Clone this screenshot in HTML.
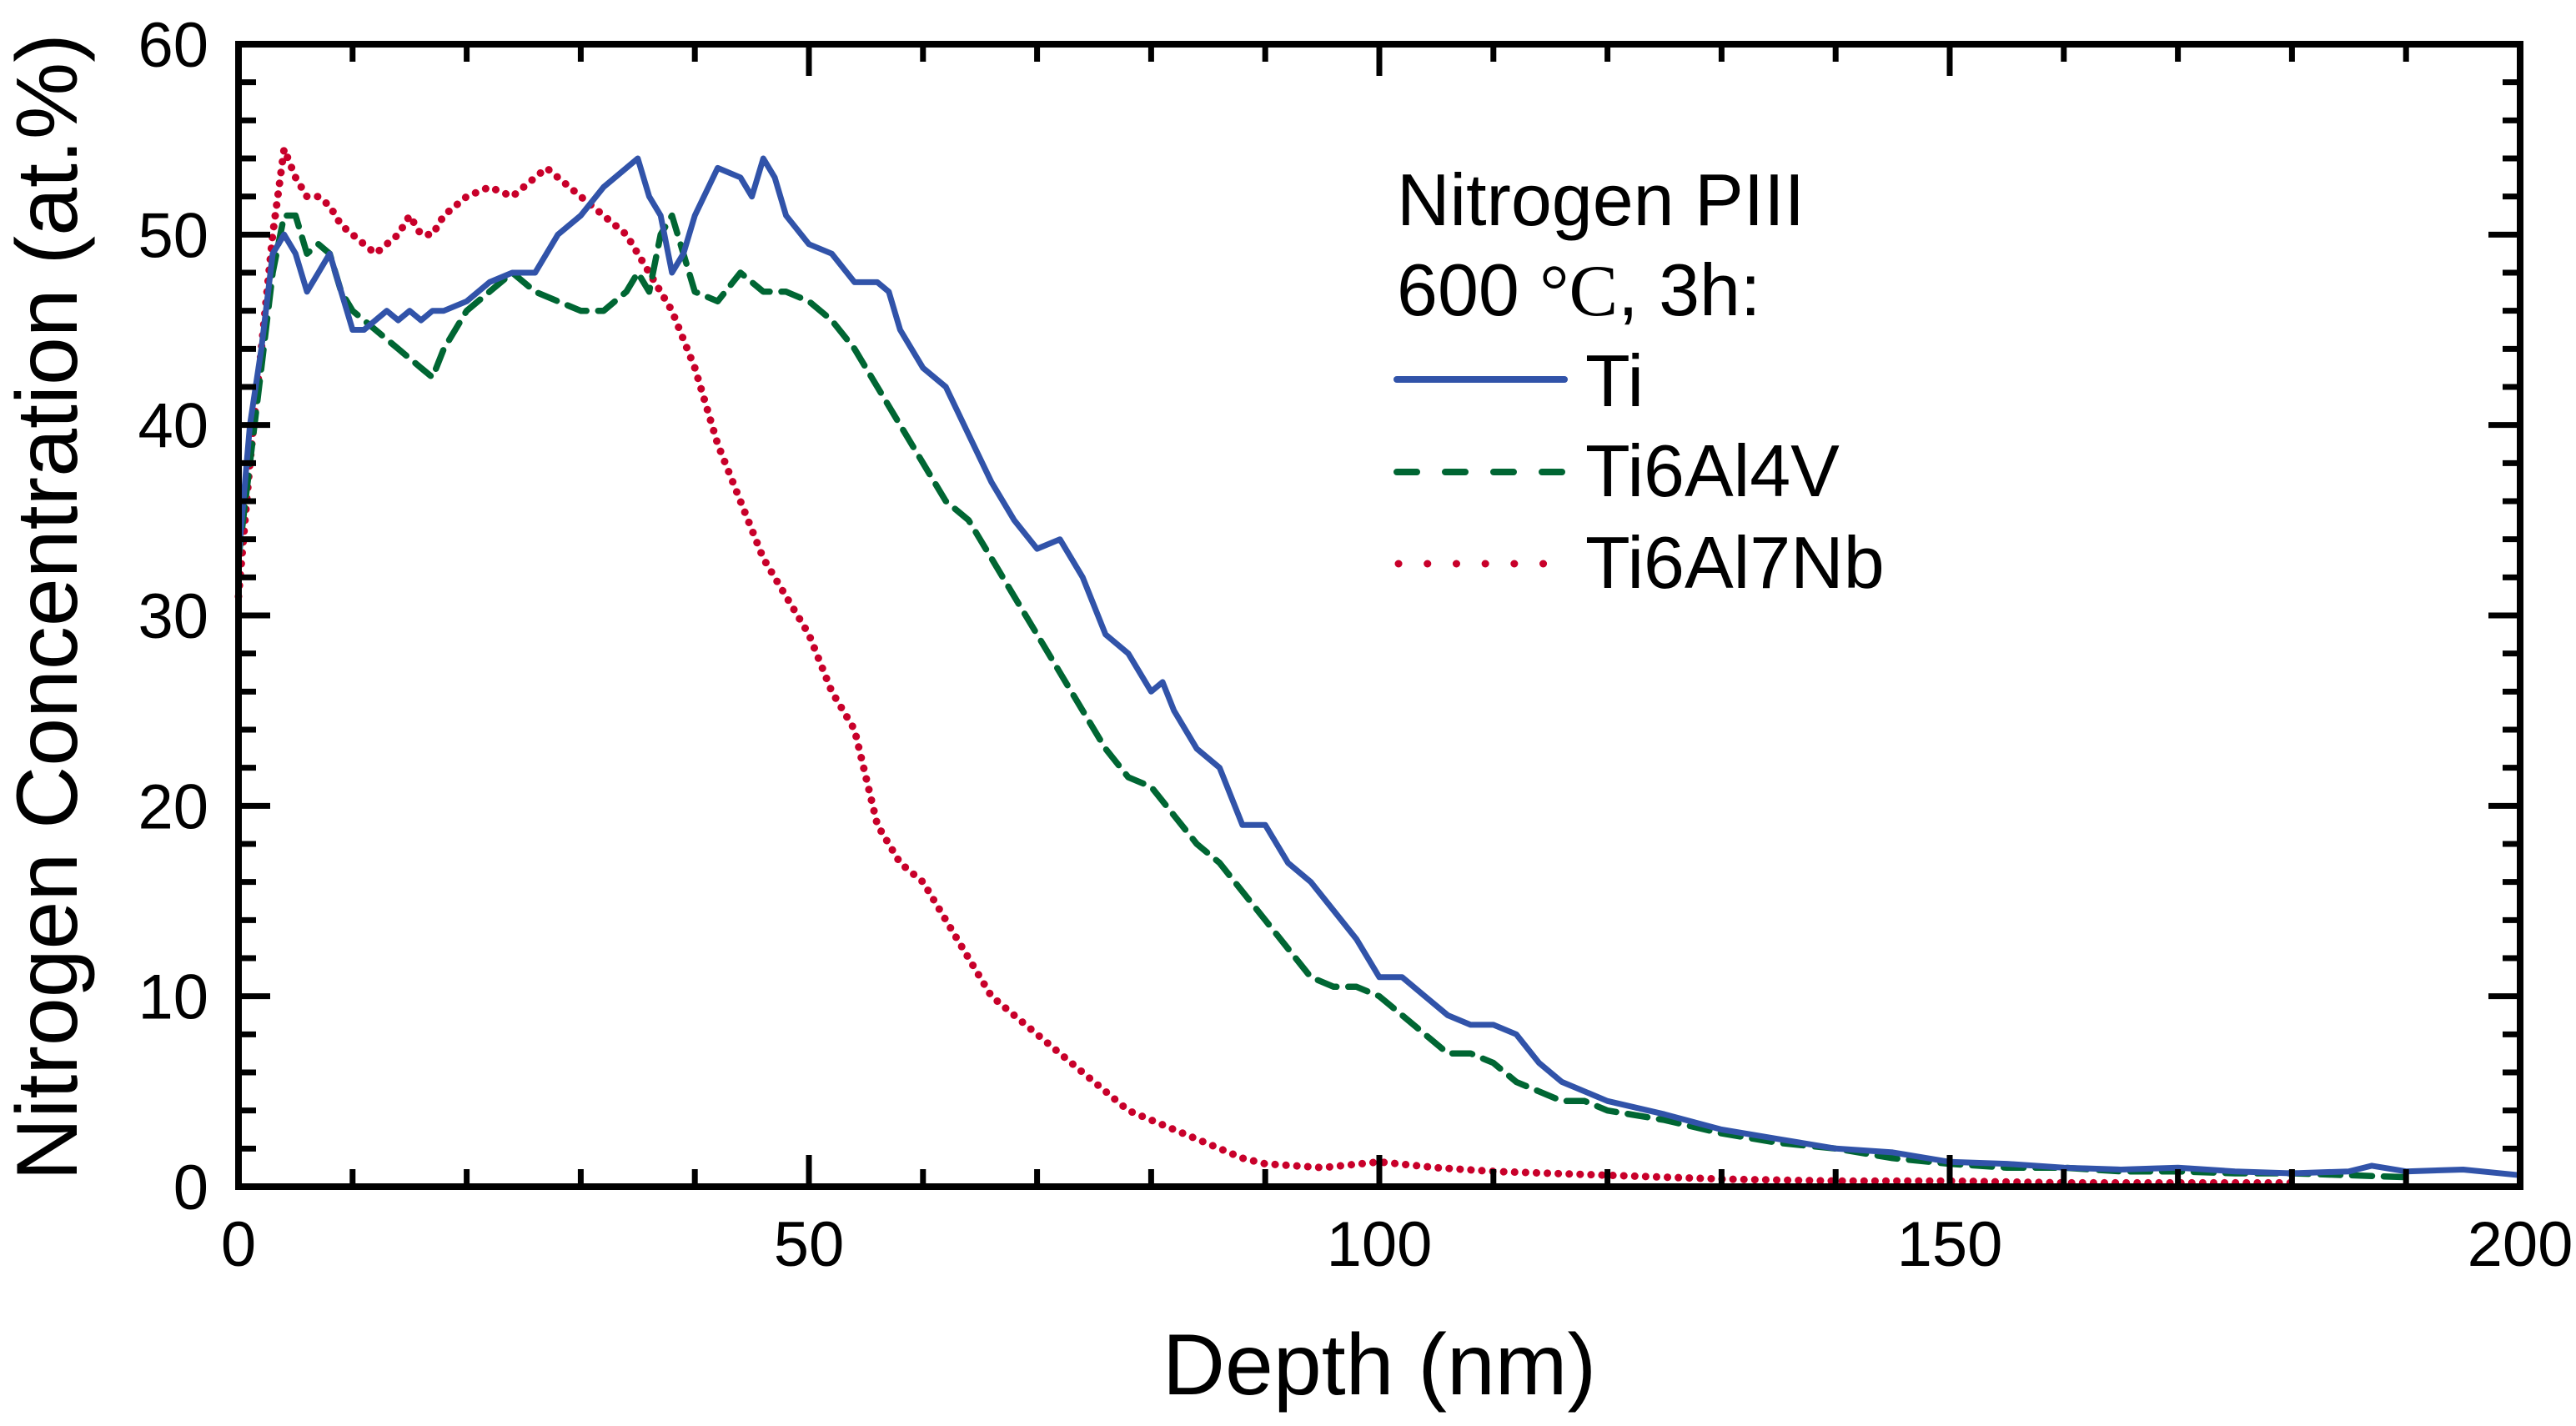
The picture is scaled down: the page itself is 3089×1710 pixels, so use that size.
<!DOCTYPE html>
<html><head><meta charset="utf-8"><style>
html,body{margin:0;padding:0;background:#fff;}
svg{display:block;font-family:"Liberation Sans",Arial,sans-serif;}
</style></head><body>
<svg id="chart" width="3089" height="1710" viewBox="0 0 3089 1710" xmlns="http://www.w3.org/2000/svg">
<g id="series"></g>
<g id="axes"></g>
<text x="0" y="0" font-size="104" text-anchor="middle" transform="translate(92,728) rotate(-90)">Nitrogen Concentration (at.%)</text>
<text x="1654" y="1672" font-size="104" text-anchor="middle">Depth (nm)</text>
<g font-size="88">
<text x="1675" y="270">Nitrogen PIII</text>
<text x="1675" y="378">600 <tspan font-family="Liberation Serif, serif">°C</tspan>, 3h:</text>
<line x1="1675" y1="455" x2="1876" y2="455" stroke="#3153a9" stroke-width="8" stroke-linecap="round"/>
<text x="1901" y="487">Ti</text>
<line x1="1675" y1="566" x2="1876" y2="566" stroke="#006633" stroke-width="8" stroke-linecap="round" stroke-dasharray="24 34"/>
<text x="1901" y="595">Ti6Al4V</text>
<line x1="1677" y1="676" x2="1855" y2="676" stroke="#c8002a" stroke-width="9" stroke-linecap="round" stroke-dasharray="0.1 34.6"/>
<text x="1901" y="705">Ti6Al7Nb</text>
</g>
</svg>
<script>
const xTicks=[0,50,100,150,200];
const yTicks=[0,10,20,30,40,50,60];
const tiX=[0,1,2,3,4,5,6,7,8,9,10,11,12,13,14,15,16,17,18,20,22,24,26,28,30,32,34,35,36,37,38,39,40,42,44,45,46,47,48,50,52,54,56,57,58,60,62,64,66,68,70,72,74,76,78,80,81,82,84,86,88,90,92,94,96,98,100,102,104,106,108,110,112,114,116,118,120,125,130,135,140,145,150,155,160,165,170,175,180,185,187,190,195,200];
const tiY=[33,40,44,49,50,49,47,48,49,47,45,45,45.5,46,45.5,46,45.5,46,46,46.5,47.5,48,48,50,51,52.5,53.5,54,52,51,48,49,51,53.5,53,52,54,53,51,49.5,49,47.5,47.5,47,45,43,42,39.5,37,35,33.5,34,32,29,28,26,26.5,25,23,22,19,19,17,16,14.5,13,11,11,10,9,8.5,8.5,8,6.5,5.5,5,4.5,3.8,3,2.5,2,1.8,1.3,1.2,1,0.9,1,0.8,0.7,0.8,1.1,0.8,0.9,0.6];
const v4X=[0,2,3,4,5,6,7,8,9,10,12,14,16,17,18,20,22,24,26,28,30,32,34,35,36,37,38,39,40,42,44,46,48,50,52,54,56,58,60,62,64,66,68,70,72,74,76,78,80,82,84,86,88,90,92,94,96,98,100,102,104,106,108,110,112,114,116,118,120,125,130,135,140,145,150,155,160,165,170,175,180,185,190];
const v4Y=[33,43,48,51,51,49,49.5,49,47,46,45,44,43,42.5,44,46,47,48,47,46.5,46,46,47,48,47,50,51,49,47,46.5,48,47,47,46.5,45.5,44,42,40,38,36,35,33,31,29,27,25,23,21.5,21,19.5,18,17,15.5,14,12.5,11,10.5,10.5,10,9,8,7,7,6.5,5.5,5,4.5,4.5,4,3.5,2.8,2.3,2,1.5,1.2,1,1,0.8,0.8,0.7,0.7,0.6,0.5];
const nbX=[0,1,2,3,4,5,6,7,8,9,10,11,12,13,14,15,16,17,18,20,22,24,26,27,28,30,32,34,36,38,40,41,42,44,46,48,50,52,54,56,58,60,62,64,66,68,70,72,74,76,78,80,82,84,86,88,90,95,100,105,110,120,130,140,150,160,170,180];
const nbY=[31,38,44,50,54.5,53,52,52,51.5,50.5,50,49.5,49,49.5,50,51,50,50,51,52,52.5,52,53,53.5,53,52,51,50,48,46,43,41,39,36,33,31,29,26,24,19,17,16,14,12,10,9,8,7,6,5,4,3.5,3,2.5,2,1.5,1.2,1,1.3,1,0.8,0.6,0.4,0.3,0.3,0.2,0.2,0.2];

const X0=286,X1=3022,Y0=1423,Y1=53;
const sx=v=>X0+(v-0)/(200-0)*(X1-X0);
const sy=v=>Y0-(v-0)/(60-0)*(Y0-Y1);
const NS="http://www.w3.org/2000/svg";
function mk(tag,attrs,parent){const e=document.createElementNS(NS,tag);for(const k in attrs)e.setAttribute(k,attrs[k]);parent.appendChild(e);return e;}
const sg=document.getElementById('series');
function series(xs,ys,color,dash,w,name){
  let d='';xs.forEach((x,i)=>{d+=(i?'L':'M')+sx(x).toFixed(1)+','+sy(ys[i]).toFixed(1);});
  const p=mk('path',{d:d,fill:'none',stroke:color,'stroke-width':w,'stroke-linecap':'round','stroke-linejoin':'round'},sg);
  if(dash)p.setAttribute('stroke-dasharray',dash);
  
  
}
series(nbX,nbY,'#c8002a','0.1 13',9,'series-ti6al7nb');
series(v4X,v4Y,'#006633','24 14',7.5,'series-ti6al4v');
series(tiX,tiY,'#3153a9',null,7,'series-ti');

const ag=document.getElementById('axes');
const frame=mk('rect',{x:X0,y:Y1,width:X1-X0,height:Y0-Y1,fill:'none',stroke:'#000','stroke-width':8},ag);


for(let v=0;v<=200;v+=10){
  const major=v%50===0, L=major?38:21, x=sx(v);
  const t1=mk('line',{x1:x,y1:Y0,x2:x,y2:Y0-L,stroke:'#000','stroke-width':7},ag);
  
  
  const t2=mk('line',{x1:x,y1:Y1,x2:x,y2:Y1+L,stroke:'#000','stroke-width':7},ag);
  
  
}
for(let v=0;v<=60;v+=2){
  const major=v%10===0, L=major?38:21, y=sy(v);
  const t1=mk('line',{x1:X0,y1:y,x2:X0+L,y2:y,stroke:'#000','stroke-width':7},ag);
  
  
  const t2=mk('line',{x1:X1,y1:y,x2:X1-L,y2:y,stroke:'#000','stroke-width':7},ag);
  
  
}
xTicks.forEach(v=>{
  const t=mk('text',{x:sx(v),y:1518,'font-size':76,'text-anchor':'middle'},ag);t.textContent=v;
  
  
});
yTicks.forEach(v=>{
  const t=mk('text',{x:250,y:sy(v)+27,'font-size':76,'text-anchor':'end'},ag);t.textContent=v;
  
  
});
</script>
</body></html>
